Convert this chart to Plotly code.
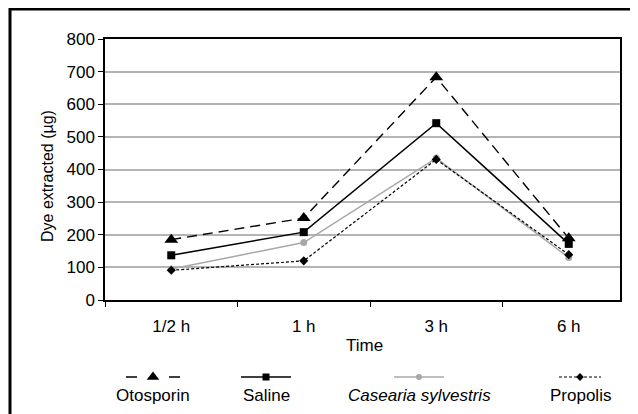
import plotly.graph_objects as go

# ---- data ----
times = ["1/2 h", "1 h", "3 h", "6 h"]
otosporin = [185, 251, 683, 189]
saline = [137, 208, 542, 172]
casearia = [95, 176, 435, 130]
propolis = [91, 120, 431, 139]

series_names = ["Otosporin", "Saline", "<i>Casearia sylvestris</i>", "Propolis"]
series_vals = [otosporin, saline, casearia, propolis]

W, H = 638, 414
OFF = 8  # page body margin offset of the figure in the screenshot
FONT = "Liberation Sans, Arial, Helvetica, sans-serif"
FS = 17

styles = [
    dict(line=dict(color="black", width=1.4, dash="10px,6px"),
         marker=dict(symbol="triangle-up", size=12, color="black")),
    dict(line=dict(color="black", width=1.5, dash="solid"),
         marker=dict(symbol="square", size=8, color="black")),
    dict(line=dict(color="#a8a8a8", width=1.5, dash="solid"),
         marker=dict(symbol="circle", size=7, color="#a8a8a8")),
    dict(line=dict(color="black", width=1.2, dash="3px,2px"),
         marker=dict(symbol="diamond", size=7, color="black")),
]


def px(x):
    return (x - OFF) / W


def py(y):
    return 1 - (y - OFF) / H


fig = go.Figure()
for name, vals, st in zip(series_names, series_vals, styles):
    fig.add_trace(go.Scatter(x=times, y=vals, mode="lines+markers", name=name,
                             line=st["line"], marker=st["marker"],
                             showlegend=False, xaxis="x", yaxis="y"))

# plot area in screenshot pixels
PL, PR, PT, PB = 105, 620, 39, 300
cat_w = 132.5

# ---- manual legend (symbol above label) on an overlay axis in pixel units ----
leg_cx = [153, 266, 419, 580]
leg_hw = [27, 25, 25, 21]
leg_sym_y = 377
leg_txt_y = 395
leg_dash = ["11px,32px", "solid", "solid", "3px,2px"]
for i, st in enumerate(styles):
    cx, hw = leg_cx[i] - OFF, leg_hw[i]
    ln = dict(st["line"])
    ln["dash"] = leg_dash[i]
    fig.add_trace(go.Scatter(x=[cx - hw, cx + hw], y=[leg_sym_y - OFF] * 2, mode="lines",
                             line=ln, showlegend=False, xaxis="x2", yaxis="y2",
                             hoverinfo="skip"))
    mk = dict(st["marker"])
    mk["size"] = mk["size"] - 1
    fig.add_trace(go.Scatter(x=[cx], y=[leg_sym_y - OFF], mode="markers", marker=mk,
                             showlegend=False, xaxis="x2", yaxis="y2", hoverinfo="skip"))
    fig.add_annotation(x=px(leg_cx[i]), y=py(leg_txt_y), xref="paper", yref="paper",
                       text=series_names[i], showarrow=False,
                       font=dict(family=FONT, size=FS, color="black"),
                       xanchor="center", yanchor="middle")

fig.update_layout(
    width=W, height=H,
    margin=dict(l=0, r=0, t=0, b=0),
    paper_bgcolor="white", plot_bgcolor="rgba(0,0,0,0)",
    font=dict(family=FONT, size=FS, color="black"),
    showlegend=False,
    xaxis=dict(
        domain=[px(PL), px(PR)],
        type="category",
        range=[-0.5, -0.5 + (PR - PL) / cat_w],
        tickson="boundaries",
        ticks="outside", ticklen=5, tickwidth=1.2, tickcolor="black",
        ticklabelstandoff=10,
        showline=True, linecolor="black", linewidth=1.5, mirror=True,
        showgrid=False, zeroline=False,
        tickfont=dict(family=FONT, size=FS, color="black"),
        automargin=False,
        anchor="y",
    ),
    yaxis=dict(
        domain=[py(PB), py(PT)],
        range=[0, 800], dtick=100, tick0=0,
        ticks="outside", ticklen=5, tickwidth=1.2, tickcolor="black",
        showline=True, linecolor="black", linewidth=1.5, mirror=True,
        showgrid=True, gridcolor="#b4b4b4", gridwidth=1.5,
        zeroline=False,
        tickfont=dict(family=FONT, size=FS, color="black"),
        automargin=False,
        anchor="x",
    ),
    xaxis2=dict(domain=[0, 1], range=[0, W], visible=False, fixedrange=True, anchor="y2"),
    yaxis2=dict(domain=[0, 1], range=[H, 0], visible=False, fixedrange=True, anchor="x2"),
)

# axis titles
fig.add_annotation(x=px(47), y=py(176), xref="paper", yref="paper",
                   text="Dye extracted (\u00b5g)", textangle=-90, showarrow=False,
                   font=dict(family=FONT, size=16, color="black"),
                   xanchor="center", yanchor="middle")
fig.add_annotation(x=px(364), y=py(345), xref="paper", yref="paper",
                   text="Time", showarrow=False,
                   font=dict(family=FONT, size=FS, color="black"),
                   xanchor="center", yanchor="middle")

# outer frame
fig.add_shape(type="rect", xref="paper", yref="paper",
              x0=px(10), x1=px(636), y0=-0.05, y1=py(9),
              line=dict(color="black", width=3), fillcolor="rgba(0,0,0,0)", layer="above")

fig.write_html("out.html")
